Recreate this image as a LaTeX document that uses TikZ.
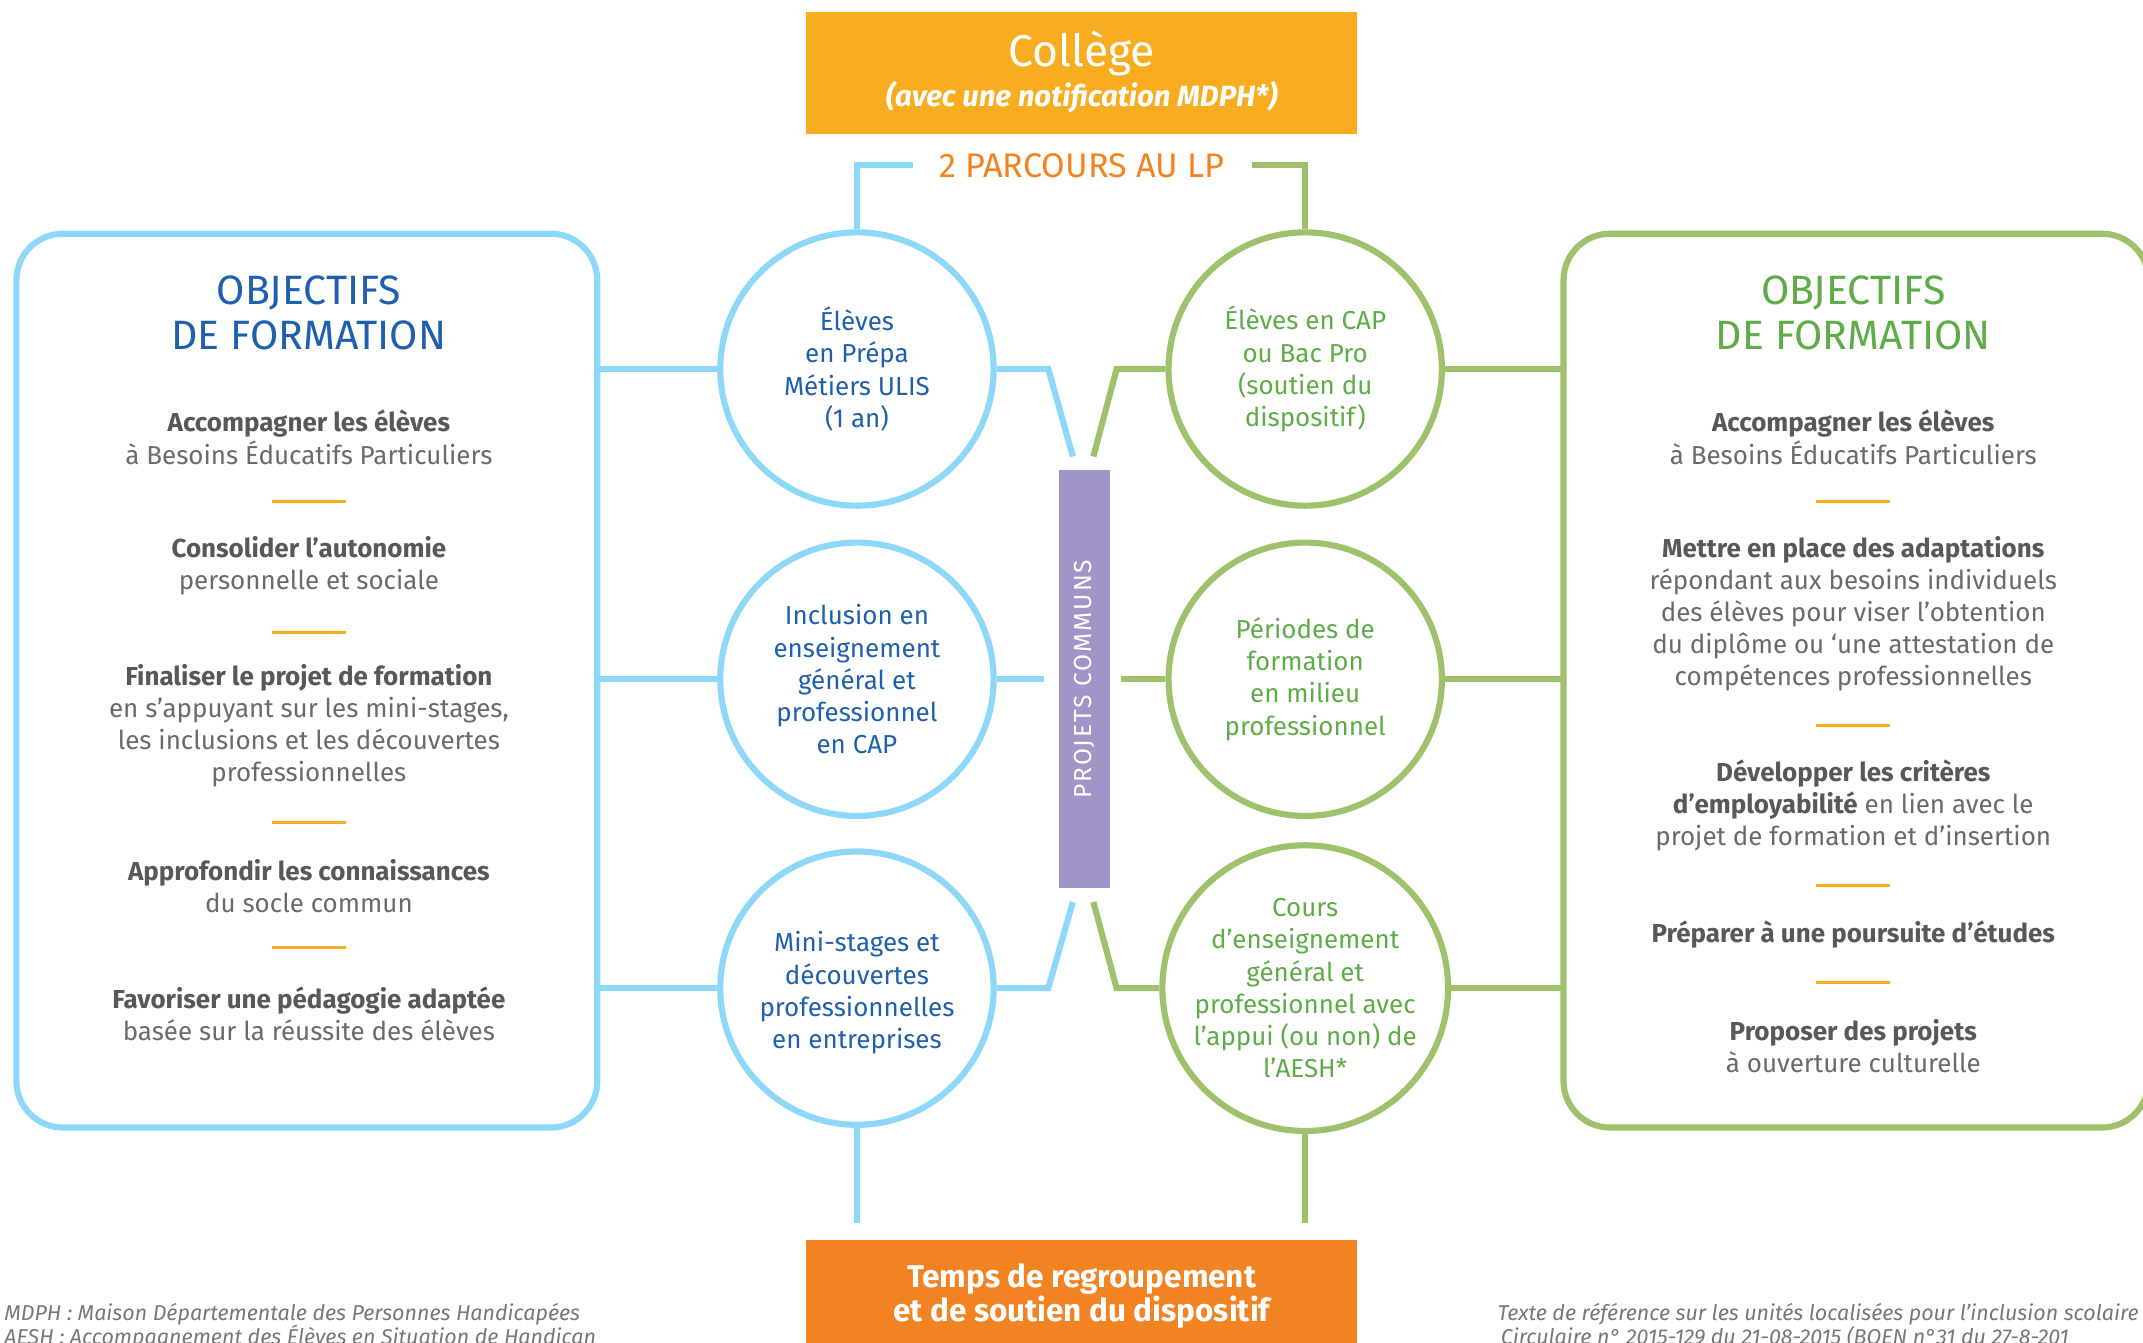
\documentclass[tikz,border=0pt]{standalone}
\usepackage{fontspec}
\setmainfont{Fira Sans}
\definecolor{lblue}{HTML}{8DD8F8}
\definecolor{lgreen}{HTML}{9EC16C}
\definecolor{dblue}{HTML}{1E5FAE}
\definecolor{dgreen}{HTML}{5EAC47}
\definecolor{gtext}{HTML}{6A6A6C}
\definecolor{gbold}{HTML}{58585A}
\definecolor{ydash}{HTML}{F8AB1F}
\definecolor{ybox}{HTML}{F8AC20}
\definecolor{obox}{HTML}{F28323}
\definecolor{otext}{HTML}{F58220}
\definecolor{purp}{HTML}{A194C6}
\definecolor{ftext}{HTML}{77777A}
\newcommand{\bt}[1]{{\bfseries\color{gbold}#1}}
\begin{document}
\begin{tikzpicture}[x=1pt,y=-1pt,
  bline/.style={draw=lblue,line width=4.5pt},
  gline/.style={draw=lgreen,line width=4.5pt},
  bcirc/.style={circle,draw=lblue,line width=4.5pt,minimum size=200pt,inner sep=0pt,align=center,text=dblue,font=\fontsize{19}{23.5}\selectfont},
  gcirc/.style={circle,draw=lgreen,line width=4.5pt,minimum size=200pt,inner sep=0pt,align=center,text=dgreen,font=\fontsize{19}{23.5}\selectfont},
  objbox/.style={draw,line width=4.5pt,rounded corners=34pt,fill=white},
  item/.style={align=center,inner sep=0pt,text=gtext,font=\fontsize{19}{23.5}\selectfont},
  title/.style={align=center,inner sep=0pt,font=\fontsize{30}{33}\selectfont},
  odash/.style={draw=ydash,line width=2.2pt},
  foot/.style={inner sep=0pt,text=ftext,font=\fontsize{15.7}{17}\selectfont\itshape}
]
\useasboundingbox (0,0) rectangle (1568,982);

% top box
\node[fill=ybox,minimum width=403pt,minimum height=89pt,inner sep=0pt] (college) at (791.5,53.5) {};
\node[text=white,inner sep=0pt,font=\fontsize{32.5}{32}\selectfont] (coltitle) at (791.5,39) {Collège};
\node[text=white,inner sep=0pt,font=\fontsize{21.5}{21}\selectfont\bfseries\itshape] (colsub) at (791.5,71) {(avec une notification MDPH*)};

\node[text=otext,inner sep=0pt,font=\fontsize{25}{25}\selectfont] (parcours) at (791.5,121) {2 PARCOURS AU LP};

% circles
\node[bcirc] (c1) at (627,270) {Élèves\\en Prépa\\Métiers ULIS\\(1 an)};
\node[bcirc] (c2) at (627,497) {Inclusion en\\enseignement\\général et\\professionnel\\en CAP};
\node[bcirc] (c3) at (627,723) {\\[-2pt]Mini-stages et\\découvertes\\professionnelles\\en entreprises};
\node[gcirc] (d1) at (955,270) {Élèves en CAP\\ou Bac Pro\\(soutien du\\dispositif)};
\node[gcirc] (d2) at (955,497) {Périodes de\\formation\\en milieu\\professionnel};
\node[gcirc] (d3) at (955,723) {Cours\\d’enseignement\\général et\\professionnel avec\\l’appui (ou non) de\\l’AESH*};

% objective boxes
\draw[objbox,draw=lblue] (12,171) rectangle (437,825);
\coordinate (lbE) at (437,497);
\draw[objbox,draw=lgreen] (1144,171) rectangle (1572,825);
\coordinate (rbW) at (1144,497);

% purple bar
\node[fill=purp,minimum width=38pt,minimum height=306pt,inner sep=0pt] (pc) at (793.5,497) {};
\node[rotate=90,text=white,inner sep=0pt,font=\fontsize{18}{18}\selectfont\addfontfeatures{LetterSpace=8}] (pctext) at (pc.center) {PROJETS COMMUNS};

% connectors top bracket
\coordinate (pb) at (668,121);
\coordinate (pg) at (916,121);
\draw[bline] (pb) -| (c1.north);
\draw[gline] (pg) -| (d1.north);

% boxes to circles
\draw[bline] (c1.west) -- (c1.west -| lbE);
\draw[bline] (c2.west) -- (c2.west -| lbE);
\draw[bline] (c3.west) -- (c3.west -| lbE);
\draw[gline] (d1.east) -- (d1.east -| rbW);
\draw[gline] (d2.east) -- (d2.east -| rbW);
\draw[gline] (d3.east) -- (d3.east -| rbW);

% circles to center
\coordinate (b1e) at (785,334);
\coordinate (g1e) at (800,334);
\coordinate (b3e) at (785,660);
\coordinate (g3e) at (800,660);
\coordinate (b2e) at (764,497);
\coordinate (g2e) at (820,497);
\draw[bline] (c1.east) -- (767,270) -- (b1e);
\draw[gline] (d1.west) -- (817,270) -- (g1e);
\draw[bline] (c2.east) -- (b2e);
\draw[gline] (d2.west) -- (g2e);
\draw[bline] (c3.east) -- (767,723) -- (b3e);
\draw[gline] (d3.west) -- (817,723) -- (g3e);

% bottom
\node[fill=obox,minimum width=403pt,minimum height=90pt,inner sep=0pt] (temps) at (791.5,952) {};
\node[text=white,align=center,inner sep=0pt,font=\fontsize{23}{21}\selectfont\bfseries] (tempst) at (791.5,948) {Temps de regroupement\\et de soutien du dispositif};
\coordinate (bb) at (627,895);
\coordinate (gb) at (955,895);
\draw[bline] (c3.south) -- (bb);
\draw[gline] (d3.south) -- (gb);

% left box contents
\node[title,text=dblue] (lt) at (226,229) {OBJECTIFS\\DE FORMATION};
\node[item] (l1) at (226,320) {\bt{Accompagner les élèves}\\à Besoins Éducatifs Particuliers};
\draw[odash] (199,367) -- (253,367);
\node[item] (l2) at (226,414) {\bt{Consolider l’autonomie}\\personnelle et sociale};
\draw[odash] (199,463) -- (253,463);
\node[item] (l3) at (226,531) {\bt{Finaliser le projet de formation}\\en s’appuyant sur les mini-stages,\\les inclusions et les découvertes\\professionnelles};
\draw[odash] (199,602) -- (253,602);
\node[item] (l4) at (226,648.5) {\bt{Approfondir les connaissances}\\du socle commun};
\draw[odash] (199,693) -- (253,693);
\node[item] (l5) at (226,741.5) {\bt{Favoriser une pédagogie adaptée}\\basée sur la réussite des élèves};

% right box contents
\node[title,text=dgreen] (rt) at (1356,229) {OBJECTIFS\\DE FORMATION};
\node[item] (r1) at (1356,320) {\bt{Accompagner les élèves}\\à Besoins Éducatifs Particuliers};
\draw[odash] (1329,367) -- (1383,367);
\node[item] (r2) at (1356,449) {\bt{Mettre en place des adaptations}\\répondant aux besoins individuels\\des élèves pour viser l’obtention\\du diplôme ou ‘une attestation de\\compétences professionnelles};
\draw[odash] (1329,531) -- (1383,531);
\node[item] (r3) at (1356,589.5) {\bt{Développer les critères}\\\bt{d’employabilité} en lien avec le\\projet de formation et d’insertion};
\draw[odash] (1329,648) -- (1383,648);
\node[item] (r4) at (1356,684) {\bt{Préparer à une poursuite d’études}};
\draw[odash] (1329,719) -- (1383,719);
\node[item] (r5) at (1356,765.5) {\bt{Proposer des projets}\\à ouverture culturelle};

% footnotes
\node[foot,anchor=base west] (f1) at (3,966) {MDPH : Maison Départementale des Personnes Handicapées};
\node[foot,anchor=base west] (f2) at (3,984) {AESH : Accompagnement des Élèves en Situation de Handican};
\node[foot,anchor=base east] (f3) at (1565,966) {Texte de référence sur les unités localisées pour l’inclusion scolaire};
\node[foot,anchor=base west] (f4) at (1098,984) {Circulaire n° 2015-129 du 21-08-2015 (BOEN n°31 du 27-8-201};
\end{tikzpicture}
\end{document}
